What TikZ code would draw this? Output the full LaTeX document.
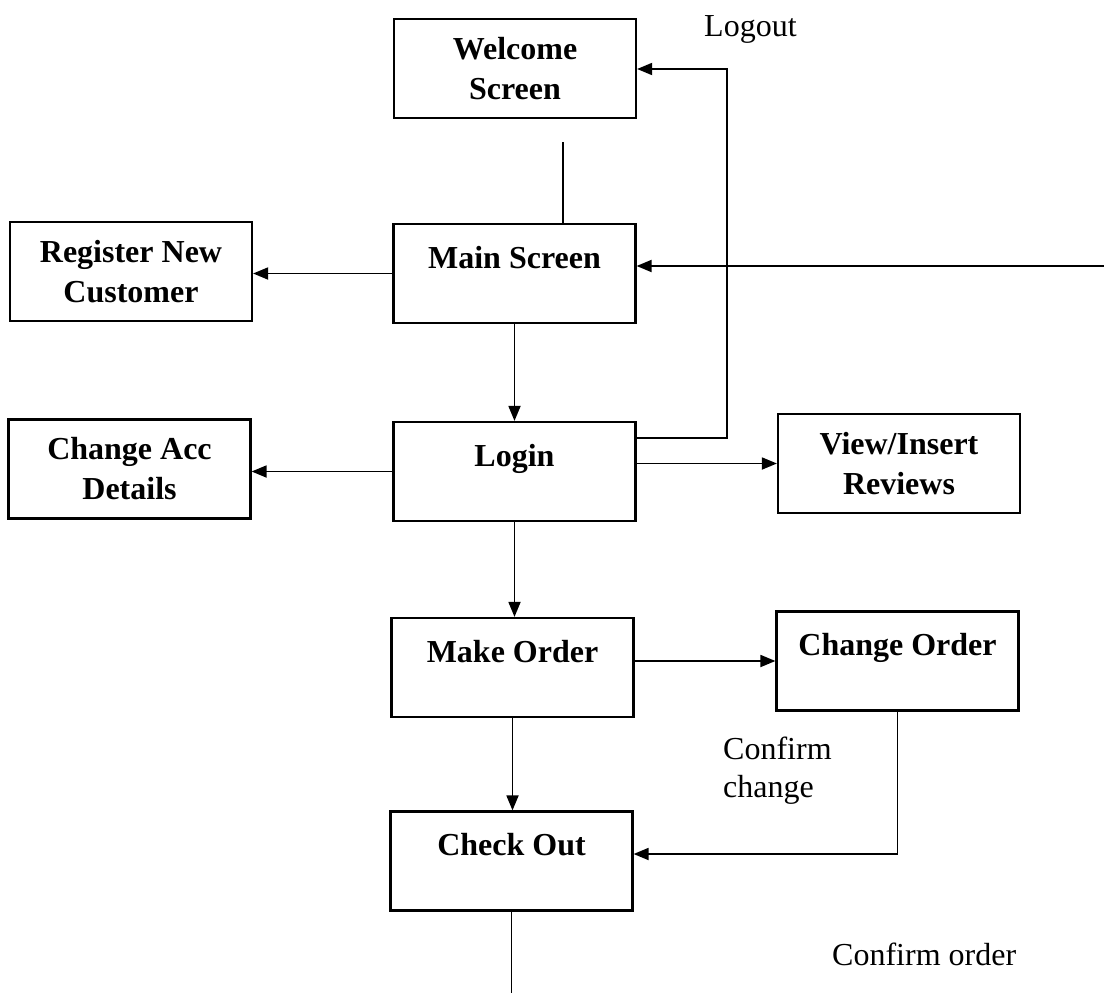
\documentclass[tikz,border=0pt]{standalone}
\usepackage{fontspec}
\setmainfont{Liberation Serif}
\usetikzlibrary{arrows.meta}
\tikzset{
  box/.style={draw, line width=2.2pt, minimum width=242pt, minimum height=99pt, inner sep=0pt,
    align=center, font=\fontsize{32}{40}\selectfont\bfseries},
  ttl/.style={anchor=north, inner sep=0pt, yshift=-23pt, font=\fontsize{32}{40}\selectfont\bfseries},
  conn/.style={line width=1.8pt},
  arr/.style={conn, -{Triangle[length=15pt,width=12pt]}},
  lbl/.style={inner sep=0pt, font=\fontsize{32}{38}\selectfont, align=left}
}
\begin{document}
\begin{tikzpicture}[x=1pt,y=-1pt]
\useasboundingbox (0,0) rectangle (1104,993);
% boxes
\node[box] (welcome) at (515,68.5) {Welcome\\Screen};
\node[box, label={[ttl]north:Main Screen}] (main) at (514.5,273.5) {};
\node[box] (register) at (131,271.5) {Register New\\Customer};
\node[box, label={[ttl]north:Login}] (login) at (514.5,471.5) {};
\node[box] (changeacc) at (129.5,469) {Change Acc\\Details};
\node[box] (view) at (899,463.5) {View/Insert\\Reviews};
\node[box, label={[ttl]north:Make Order}] (make) at (512.5,667.5) {};
\node[box, label={[ttl]north:Change Order}] (changeorder) at (897.5,661) {};
\node[box, label={[ttl]north:Check Out}] (checkout) at (511.5,861) {};
% free ends
\coordinate (wtail) at (563,142);
\coordinate (redge) at (1104,266);
\coordinate (lo) at (727,69);
\coordinate (bottom) at (511.5,993);
% connectors
\draw[conn] (wtail) -- (wtail |- main.north);
\draw[arr] (main.west) -- (main.west -| register.east);
\draw[arr] (redge) -- (redge -| main.east);
\draw[arr] (main.south) -- (login.north);
\draw[arr] (login.west) -- (login.west -| changeacc.east);
\draw[arr] (view.west -| login.east) -- (view.west);
\draw[arr] ([yshift=33.5pt]login.east) -| (lo) -- (lo -| welcome.east);
\draw[arr] (login.south) -- (login.south |- make.north);
\draw[arr] (changeorder.west -| make.east) -- (changeorder.west);
\draw[arr] (make.south) -- (make.south |- checkout.north);
\draw[arr] (changeorder.south) |- ([yshift=7pt]checkout.east);
\draw[conn] (checkout.south) -- (bottom);
% labels
\node[lbl, anchor=base west] (logout) at (704,36) {Logout};
\node[lbl, anchor=base west] (cc) at (723,797) {Confirm\\change};
\node[lbl, anchor=base west] (co) at (832,965) {Confirm order};
\end{tikzpicture}
\end{document}
